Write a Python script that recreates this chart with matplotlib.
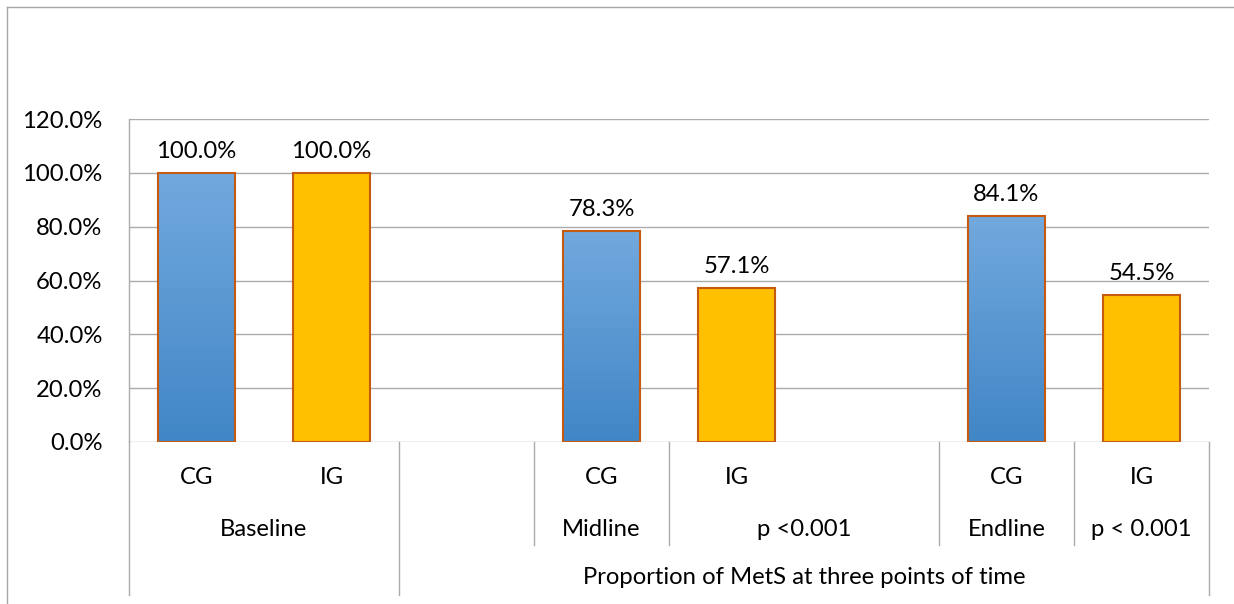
import numpy as np
import matplotlib
matplotlib.use("Agg")
import matplotlib.pyplot as plt
from matplotlib.colors import LinearSegmentedColormap
from matplotlib.lines import Line2D

plt.rcParams["font.family"] = ["Lato", "DejaVu Sans"]

# Category levels (innermost first)
groups = ["CG", "IG", "", "CG", "IG", "", "CG", "IG"]
proportions = [100.0, 100.0, np.nan, 78.3, 57.1, np.nan, 84.1, 54.5]
mid_labels = [("Baseline", 0, 2), ("", 2, 3), ("Midline", 3, 4),
              ("p <0.001", 4, 6), ("Endline", 6, 7), ("p < 0.001", 7, 8)]
outer_labels = [("", 0, 2), ("Proportion of MetS at three points of time", 2, 8)]
y_ticks = [0, 20, 40, 60, 80, 100, 120]

blue_top, blue_bottom = "#72A9DE", "#4186C6"
gold = "#FFC000"
edge = "#C55A11"
grid_col = "#ABABAB"
fs = 17.2

W, H = 1234, 604
fig = plt.figure(figsize=(W / 100, H / 100), dpi=100)
ax_l, ax_r, ax_t, ax_b = 129, 1209, 119, 442
ax = fig.add_axes([ax_l / W, 1 - ax_b / H, (ax_r - ax_l) / W, (ax_b - ax_t) / H])

n = len(groups)
x = np.arange(n)
ax.set_xlim(-0.5, n - 0.5)
ax.set_ylim(0, 120)

for yv in y_ticks:
    ax.axhline(yv, color=grid_col, lw=1.0, zorder=1)

blue_cmap = LinearSegmentedColormap.from_list("cg", [blue_bottom, blue_top])
bw = 0.57
for xi, g, v in zip(x, groups, proportions):
    if np.isnan(v):
        continue
    if g == "CG":
        bar = ax.bar(xi, v, width=bw, color="none", edgecolor=edge, lw=1.5, zorder=3)[0]
        grad = np.linspace(0, 1, 256).reshape(-1, 1)
        im = ax.imshow(grad, cmap=blue_cmap, origin="lower", aspect="auto",
                       extent=[xi - bw / 2, xi + bw / 2, 0, v], zorder=2)
        im.set_clip_path(bar)
    else:
        ax.bar(xi, v, width=bw, color=gold, edgecolor=edge, lw=1.5, zorder=3)
    ax.annotate(f"{v:.1f}%", (xi, v), xytext=(0, 8), textcoords="offset points",
                ha="center", va="bottom", fontsize=fs, color="black")

ax.set_xlim(-0.5, n - 0.5)
ax.set_ylim(0, 120)
ax.set_yticks(y_ticks)
ax.set_yticklabels([f"{t:.1f}%" for t in y_ticks])
ax.tick_params(axis="y", length=0, pad=19, labelsize=fs)
ax.set_xticks([])
for s in ["top", "right", "bottom"]:
    ax.spines[s].set_visible(False)
ax.spines["left"].set_color(grid_col)
ax.spines["left"].set_linewidth(1.0)

# Multi-level category axis below the plot
h_px = ax_b - ax_t
def yfrac(py):
    return (ax_b - py) / h_px

trans = ax.get_xaxis_transform()
y1_bot = yfrac(545)
y2_bot = yfrac(595)

for xi, g in zip(x, groups):
    if g:
        ax.text(xi, yfrac(477), g, transform=trans, ha="center", va="center",
                fontsize=fs, clip_on=False)
bounds_mid = sorted(set([b for _, a, b in mid_labels] + [a for _, a, b in mid_labels]))
for lab, a, b in mid_labels:
    if lab:
        ax.text((a + b - 1) / 2, yfrac(529), lab, transform=trans, ha="center",
                va="center", fontsize=fs, clip_on=False)
outer_bounds = sorted(set([a for _, a, b in outer_labels] + [b for _, a, b in outer_labels]))
for bd in bounds_mid:
    ybot = y2_bot if bd in outer_bounds else y1_bot
    ax.add_line(Line2D([bd - 0.5, bd - 0.5], [0, ybot], transform=trans,
                       color=grid_col, lw=1.0, clip_on=False))
for lab, a, b in outer_labels:
    if lab:
        ax.text((a + b - 1) / 2, yfrac(578), lab, transform=trans, ha="center",
                va="center", fontsize=fs, clip_on=False)

# Chart frame (top and left edges)
fig.add_artist(Line2D([7 / W, 1], [1 - 7 / H, 1 - 7 / H], transform=fig.transFigure,
                      color="#A6A6A6", lw=1.0))
fig.add_artist(Line2D([7 / W, 7 / W], [0, 1 - 7 / H], transform=fig.transFigure,
                      color="#A6A6A6", lw=1.0))

fig.savefig("out.png", dpi=100, facecolor="white")
